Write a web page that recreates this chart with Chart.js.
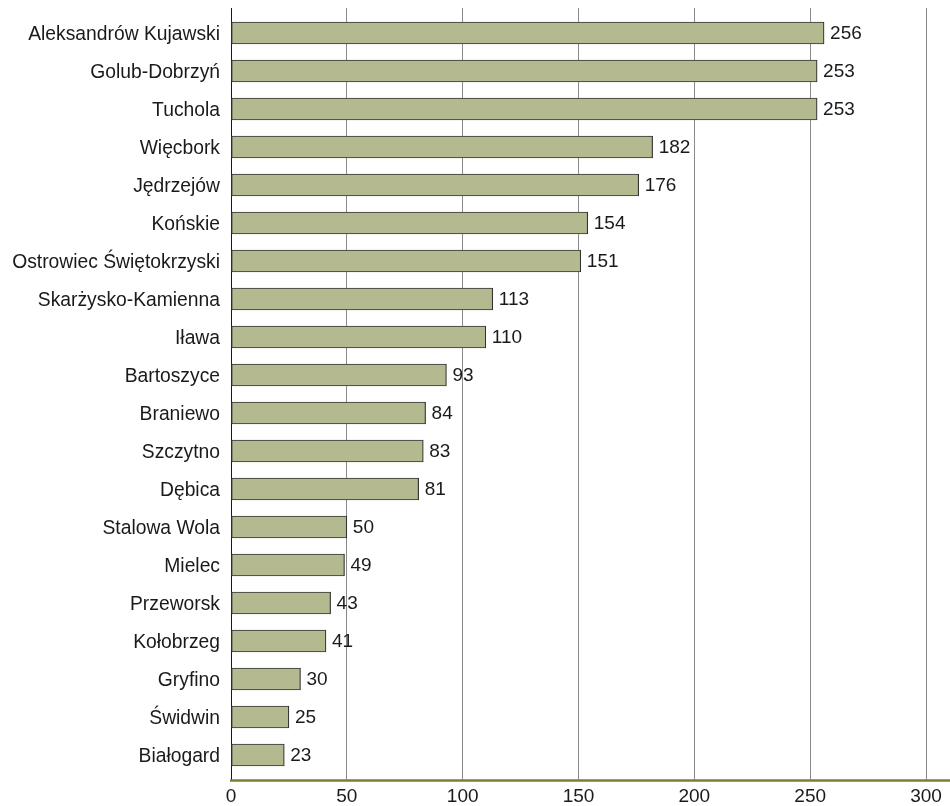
<!DOCTYPE html>
<html>
<head>
<meta charset="utf-8">
<script src="https://cdn.jsdelivr.net/npm/chart.js@4/dist/chart.umd.min.js"></script>
<style>
  html, body { margin: 0; padding: 0; background: #fff; }
</style>
</head>
<body>
<canvas id="towns" width="950" height="806"></canvas>
<script>
const towns = [
    'Aleksandrów Kujawski',
    'Golub-Dobrzyń',
    'Tuchola',
    'Więcbork',
    'Jędrzejów',
    'Końskie',
    'Ostrowiec Świętokrzyski',
    'Skarżysko-Kamienna',
    'Iława',
    'Bartoszyce',
    'Braniewo',
    'Szczytno',
    'Dębica',
    'Stalowa Wola',
    'Mielec',
    'Przeworsk',
    'Kołobrzeg',
    'Gryfino',
    'Świdwin',
    'Białogard'
]
const counts = [256, 253, 253, 182, 176, 154, 151, 113, 110, 93, 84, 83, 81, 50, 49, 43, 41, 30, 25, 23]
const xMin = 0
const xMax = 300
const xStep = 50

const font = { family: 'Liberation Sans, Arial, sans-serif', size: 19 }
const textColor = '#1a1a1a'
const lineColor = (v) => v === 0 ? '#1a1a1a' : '#8a8a8a'
const gridColor = (ctx) => lineColor(ctx.tick ? ctx.tick.value : null)

// grid lines poke out 6px above the bars, olive axis line runs to the edge
const frame = {
    id: 'frame',
    beforeDatasetsDraw(chart) {
        const { ctx, chartArea, scales } = chart
        ctx.save()
        ctx.lineWidth = 1
        scales.x.ticks.forEach((t) => {
            const x = Math.round(scales.x.getPixelForValue(t.value) - 0.5) + 0.5
            ctx.strokeStyle = lineColor(t.value)
            ctx.beginPath()
            ctx.moveTo(x, chartArea.top - 6)
            ctx.lineTo(x, chartArea.top)
            ctx.stroke()
        })
        ctx.restore()
    },
    afterDraw(chart) {
        const { ctx, chartArea } = chart
        ctx.save()
        ctx.strokeStyle = '#7b7e34'
        ctx.lineWidth = 2.5
        ctx.beginPath()
        ctx.moveTo(chartArea.left - 1, chartArea.bottom + 6.5)
        ctx.lineTo(chart.width, chartArea.bottom + 6.5)
        ctx.stroke()
        ctx.restore()
    }
}

const valueLabels = {
    id: 'valueLabels',
    afterDatasetsDraw(chart) {
        const { ctx } = chart
        ctx.save()
        ctx.font = font.size + 'px ' + font.family
        ctx.fillStyle = textColor
        ctx.textAlign = 'left'
        ctx.textBaseline = 'middle'
        chart.getDatasetMeta(0).data.forEach((bar, i) => {
            ctx.fillText(counts[i], bar.x + 6, bar.y + 1)
        })
        ctx.restore()
    }
}

const chart = new Chart(
    document.getElementById('towns'),
    {
        type: 'bar',
        data: {
            labels: towns,
            datasets: [{
                data: counts,
                backgroundColor: '#b5b98f',
                borderColor: '#333333',
                borderWidth: 1.2,
                borderSkipped: false,
                barThickness: 22,
            }]
        },
        options: {
            indexAxis: 'y',
            responsive: false,
            animation: false,
            layout: {
                padding: { top: 14, right: 24, bottom: 0, left: 0 }
            },
            scales: {
                x: {
                    min: xMin,
                    max: xMax,
                    ticks: {
                        stepSize: xStep,
                        color: textColor,
                        font: font,
                        padding: 5,
                        maxRotation: 0,
                    },
                    grid: {
                        color: gridColor,
                        lineWidth: 1,
                        drawTicks: true,
                        tickLength: 6,
                        tickColor: gridColor,
                    },
                    border: { display: false },
                    afterFit: (scale) => { scale.height = 32 },
                },
                y: {
                    ticks: {
                        color: textColor,
                        font: { family: font.family, size: 19.3 },
                        padding: 11,
                        labelOffset: 1.5,
                    },
                    grid: { display: false, drawTicks: false },
                    border: { display: false },
                    afterFit: (scale) => {
                        scale.width = 231
                        scale.paddingTop = 0
                        scale.paddingBottom = 0
                    },
                }
            },
            plugins: {
                legend: { display: false },
                tooltip: { enabled: false },
            }
        },
        plugins: [frame, valueLabels]
    }
)
</script>
</body>
</html>
